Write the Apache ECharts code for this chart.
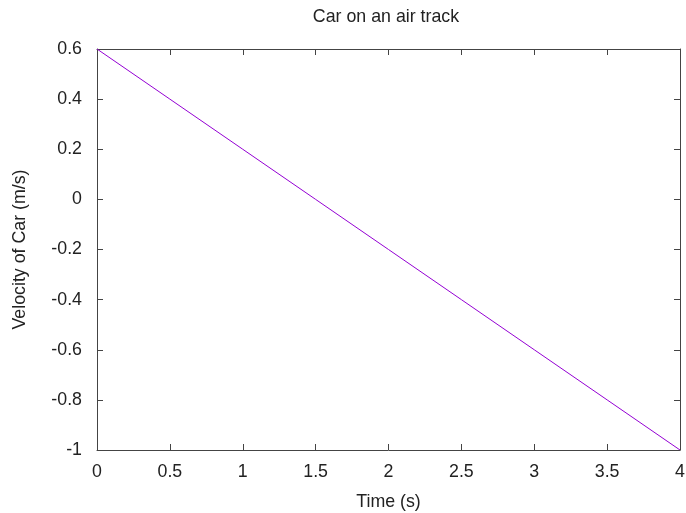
<!DOCTYPE html>
<html><head><meta charset="utf-8">
<script src="https://cdn.jsdelivr.net/npm/echarts@6/dist/echarts.min.js"></script>
<style>html,body{margin:0;padding:0;background:#fff}#c{width:686px;height:513px}</style>
</head><body><div id="c"></div>
<script>
const title = "Car on an air track";
const xName = "Time (s)";
const yName = "Velocity of Car (m/s)";
const timeValues = [0, 0.5, 1, 1.5, 2, 2.5, 3, 3.5, 4];
const velocityValues = [0.6, 0.4, 0.2, 0, -0.2, -0.4, -0.6, -0.8, -1.0];

const font = "Liberation Sans, Arial, sans-serif";
const fs = 17.8;
const axisCol = "#444";
const textCol = "#222";
const chart = echarts.init(document.getElementById('c'), null, {renderer: 'canvas'});
const common = {
  axisLine: {show: true, onZero: false, lineStyle: {color: axisCol, width: 1}},
  axisTick: {show: true, inside: true, length: 6, lineStyle: {color: axisCol}},
  splitLine: {show: false},
};
chart.setOption({
  animation: false,
  title: {text: title, left: 381, top: 3, textAlign: 'center',
    textStyle: {fontFamily: font, fontSize: fs, fontWeight: 'normal', color: textCol}},
  grid: {left: 97, top: 49, width: 583, height: 401, containLabel: false, outerBoundsMode: 'none'},
  xAxis: [
    Object.assign({type: 'value', position: 'bottom', min: 0, max: 4, interval: 0.5,
      name: xName, nameLocation: 'middle', nameGap: 43,
      nameTextStyle: {fontFamily: font, fontSize: fs, color: textCol},
      axisLabel: {margin: 13, fontFamily: font, fontSize: fs, color: textCol}}, common),
    Object.assign({type: 'value', position: 'top', min: 0, max: 4, interval: 0.5,
      axisLabel: {show: false}}, common)
  ],
  yAxis: [
    Object.assign({type: 'value', position: 'left', min: -1, max: 0.6, interval: 0.2,
      name: yName, nameLocation: 'middle', nameGap: 68, nameRotate: 90,
      nameTextStyle: {fontFamily: font, fontSize: fs, color: textCol},
      axisLabel: {margin: 15, fontFamily: font, fontSize: fs, color: textCol,
        formatter: v => String(Math.round(v * 10) / 10)}}, common),
    Object.assign({type: 'value', position: 'right', min: -1, max: 0.6, interval: 0.2,
      axisLabel: {show: false}}, common)
  ],
  series: [{
    type: 'line', xAxisIndex: 0, yAxisIndex: 0,
    data: timeValues.map((t, i) => [t, velocityValues[i]]),
    showSymbol: false, symbol: 'none',
    lineStyle: {color: '#9400d3', width: 1}
  }]
});
</script></body></html>
